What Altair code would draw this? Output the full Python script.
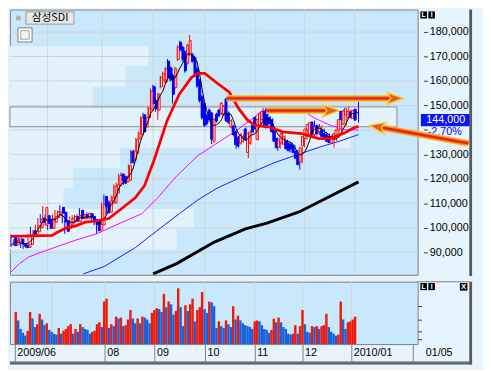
import altair as alt
import pandas as pd

S = 0.965                      # reference-pixel -> output-pixel factor
W, HP, HV, STRIP = 418, 272, 64, 18

# ---------------- daily candles, prices in thousand won ----------------
opens = [96.5, 93.0, 94.5, 95.4, 93.6, 92.8, 92.0, 93.2, 98.8, 97.2,
         98.4, 100.0, 104.0, 101.0, 105.0, 103.3, 99.8, 102.3, 104.2, 105.2,
         108.4, 106.4, 102.8, 99.8, 101.5, 102.4, 104.6, 102.6, 107.2, 103.8,
         105.4, 104.0, 105.8, 104.6, 103.4, 102.6, 99.2, 101.2, 112.8, 110.4,
         106.4, 110.0, 110.2, 114.2, 117.4, 122.0, 121.0, 118.8, 119.4, 131.2,
         127.6, 130.6, 136.4, 138.1, 146.2, 141.2, 145.0, 148.1, 157.7, 152.0,
         148.1, 157.7, 160.4, 159.6, 168.1, 165.4, 162.3, 157.3, 168.8, 175.8,
         173.8, 171.9, 167.3, 170.8, 170.8, 169.6, 165.0, 160.0, 153.5, 150.8,
         146.0, 148.1, 146.9, 135.4, 146.4, 148.1, 146.9, 146.2, 152.7, 146.9,
         141.2, 141.6, 139.2, 137.0, 134.6, 135.4, 140.4, 130.8, 134.6, 141.9,
         145.0, 136.2, 141.9, 144.2, 147.7, 146.9, 145.0, 144.2, 140.4, 136.5,
         133.0, 134.6, 134.2, 135.4, 134.6, 134.2, 133.5, 131.2, 129.6, 126.9,
         133.5, 136.5, 140.0, 137.3, 143.1, 138.1, 141.9, 139.2, 140.0, 138.5,
         138.1, 137.3, 134.6, 136.2, 137.3, 140.0, 147.7, 142.3, 146.2, 145.0,
         147.4, 144.8, 148.5]
closes = [92.7, 94.8, 95.6, 93.4, 92.5, 91.9, 93.3, 97.0, 97.4, 98.6,
          100.9, 103.5, 102.3, 108.3, 101.8, 99.8, 103.6, 104.6, 106.6, 106.4,
          106.0, 102.4, 98.6, 101.6, 104.0, 104.6, 102.8, 105.0, 103.8, 105.4,
          104.0, 105.9, 104.2, 103.0, 101.4, 98.8, 101.4, 109.6, 108.6, 106.2,
          110.9, 112.6, 117.0, 117.6, 121.4, 119.2, 118.2, 120.8, 125.4, 126.6,
          131.4, 136.2, 138.6, 145.0, 139.2, 145.0, 148.8, 155.8, 150.8, 148.6,
          154.6, 161.5, 163.0, 165.0, 161.2, 160.4, 154.6, 165.0, 173.8, 172.7,
          168.8, 164.2, 174.6, 176.5, 168.1, 163.0, 158.0, 152.0, 145.0, 141.9,
          142.6, 144.2, 136.2, 144.2, 143.6, 145.8, 150.8, 149.6, 143.8, 143.1,
          143.8, 138.1, 134.0, 133.4, 138.1, 137.3, 136.2, 138.5, 139.2, 139.2,
          140.4, 144.2, 146.9, 147.7, 141.2, 141.9, 142.6, 139.2, 135.4, 132.7,
          135.8, 138.5, 137.3, 132.3, 131.5, 132.3, 130.8, 128.4, 125.8, 132.7,
          137.3, 140.4, 142.3, 143.1, 138.1, 141.2, 138.5, 141.2, 137.3, 136.2,
          135.4, 134.8, 137.3, 138.5, 140.0, 144.2, 144.2, 147.7, 148.8, 147.7,
          145.2, 148.0, 144.0]
highs = [97.3, 95.4, 96.2, 95.8, 94.0, 93.4, 93.8, 97.6, 100.4, 99.2,
         101.3, 104.0, 105.6, 108.9, 105.6, 103.8, 104.2, 105.4, 107.3, 107.0,
         109.2, 106.8, 103.2, 102.2, 104.6, 105.2, 105.2, 105.6, 108.0, 106.0,
         105.8, 106.4, 106.2, 105.0, 103.8, 103.0, 102.0, 110.4, 113.6, 110.8,
         111.4, 113.2, 117.8, 118.4, 122.0, 122.6, 121.6, 121.4, 126.0, 131.8,
         132.0, 136.8, 139.4, 145.6, 147.0, 145.8, 149.6, 157.0, 158.4, 152.8,
         155.2, 162.2, 163.8, 165.8, 169.0, 166.0, 163.0, 165.8, 174.6, 176.5,
         174.4, 172.6, 175.2, 178.8, 171.6, 170.2, 165.8, 160.8, 154.2, 152.0,
         146.8, 148.8, 147.4, 144.8, 147.0, 148.8, 151.4, 150.2, 153.2, 147.6,
         144.4, 142.2, 139.8, 137.6, 138.8, 138.0, 141.0, 139.2, 139.8, 142.6,
         145.6, 144.8, 147.6, 149.0, 148.8, 147.6, 145.6, 144.8, 141.0, 137.0,
         136.4, 139.0, 137.8, 136.0, 135.2, 134.8, 134.0, 131.8, 130.2, 133.2,
         137.8, 141.0, 142.8, 143.6, 143.8, 141.8, 142.4, 141.8, 140.6, 139.0,
         138.6, 137.8, 137.8, 139.0, 140.6, 144.8, 148.4, 148.4, 149.6, 148.4,
         148.0, 148.6, 151.9]
lows = [92.2, 92.6, 94.0, 93.0, 91.8, 91.4, 91.7, 92.9, 97.0, 96.8,
        98.0, 99.6, 101.9, 100.6, 101.0, 99.2, 99.4, 102.0, 103.8, 104.6,
        105.6, 101.9, 97.6, 99.2, 101.0, 102.0, 102.3, 102.2, 103.4, 103.4,
        103.5, 103.6, 103.8, 102.6, 101.0, 97.7, 98.8, 100.8, 108.2, 105.6,
        106.0, 109.6, 109.8, 113.8, 117.0, 118.8, 117.6, 118.4, 119.0, 126.0,
        127.2, 130.2, 135.6, 137.6, 138.6, 140.6, 144.4, 147.6, 150.2, 147.4,
        144.2, 157.0, 159.8, 159.0, 160.6, 159.8, 150.8, 156.6, 168.2, 172.0,
        168.0, 163.4, 166.6, 170.2, 167.4, 162.4, 157.2, 151.2, 144.2, 141.2,
        141.8, 143.4, 134.2, 134.8, 143.0, 145.2, 146.2, 145.6, 143.2, 142.4,
        140.6, 137.4, 132.3, 132.8, 134.0, 134.8, 135.6, 128.5, 134.0, 138.6,
        139.8, 135.6, 141.2, 143.6, 140.6, 141.2, 142.0, 138.6, 134.8, 131.5,
        132.4, 134.0, 133.6, 131.8, 130.8, 131.6, 130.2, 127.8, 123.8, 126.4,
        133.0, 136.0, 139.4, 136.8, 137.6, 137.6, 138.0, 138.6, 136.8, 135.6,
        134.8, 134.2, 132.7, 135.6, 136.8, 139.4, 143.6, 141.8, 145.6, 144.4,
        144.6, 144.2, 143.0]
volumes = [34, 25, 16, 12, 9, 14, 34, 27, 18, 21,
           32, 26, 20, 22, 15, 13, 11, 10, 17, 11,
           14, 16, 19, 21, 11, 16, 13, 21, 18, 16,
           15, 11, 13, 14, 21, 23, 18, 45, 48, 17,
           21, 19, 29, 27, 28, 19, 20, 26, 36, 27,
           22, 27, 22, 29, 28, 26, 22, 33, 36, 38,
           37, 34, 53, 39, 45, 42, 31, 35, 59, 39,
           19, 41, 35, 42, 48, 24, 36, 39, 55, 37,
           33, 45, 44, 40, 17, 24, 19, 17, 25, 21,
           18, 40, 26, 30, 25, 22, 20, 19, 18, 16,
           24, 25, 24, 20, 16, 15, 12, 15, 27, 23,
           28, 23, 18, 16, 11, 10, 11, 20, 11, 19,
           36, 21, 13, 12, 19, 18, 19, 16, 19, 20,
           32, 18, 13, 11, 9, 10, 45, 26, 16, 23,
           24, 26, 29]

# moving averages (day index, value)
ma20_i = [0, 16.9, 18.8, 22.7, 26.5, 30.4, 34.2, 40, 45, 50.8, 54.6, 58.5, 62.3, 63.8, 68.8,
          73.8, 76.5, 79.2, 84.2, 89.2, 93, 96.5, 99.6, 105.4, 111, 118.8, 125.8, 130.4,
          136.2, 140, 142]
ma20_v = [96.5, 96.9, 98.1, 100.0, 100.8, 102.3, 102.7, 103.8, 107.7, 112.3, 117.3, 127.7,
          139.2, 143.8, 154.6, 161.5, 163.1, 163.1, 159.2, 155.4, 148.8, 144.2, 141.9, 141.2,
          139.2, 138.5, 136.5, 136.5, 138.8, 140.8, 141.5]
ma60_i = [0, 3.5, 7.3, 12.3, 18.8, 26.5, 35.4, 44.6, 53.5, 60, 67.7, 76.5, 84.2, 91.9, 97.7,
          101.5, 105.4, 115, 118.8, 123.8, 130.4, 136.9, 142]
ma60_v = [81.9, 85.4, 88.1, 90.0, 92.3, 95.0, 97.7, 101.9, 105.8, 112.3, 121.2, 129.6, 134.6,
          139.6, 143.8, 146.9, 148.5, 148.5, 148.1, 145.0, 141.9, 140.0, 140.0]
ma120_i = [29.6, 38.1, 50.8, 61.2, 68.8, 76.5, 84.2, 95.8, 107.3, 115, 126.5, 134.2, 142]
ma120_v = [81.2, 84.2, 91.9, 100.0, 105.8, 111.5, 116.2, 121.5, 126.5, 129.2, 133.1, 135.4, 138.1]
ma240_i = [58.1, 67.7, 83.1, 95.8, 104.6, 117.7, 129.2, 142]
ma240_v = [81.2, 85.4, 94.2, 99.6, 101.9, 106.5, 112.3, 118.8]

# price-by-volume bands
band_lo = [91.2, 99.6, 107.7, 116.2, 124.6, 132.7, 141.3, 149.4, 157.7, 166.2]
band_hi = [99.6, 107.7, 116.2, 124.6, 132.7, 141.3, 149.4, 157.7, 166.2, 174.2]
band_vol = [177, 195, 57, 67, 117, 362, 411, 88, 123, 147]

# month boundaries (day index) and labels
grid_idx = [15.0, 37.3, 58.1, 79.2, 100.0, 120.0, 140.4]
lbl_idx = [-0.385, 37.3, 58.1, 79.2, 100.0, 120.0, 140.4, 166.15]
lbl_txt = ['2009/06', '08', '09', '10', '11', '12', '2010/01', '']
price_ticks = [90, 100, 110, 120, 130, 140, 150, 160, 170, 180]
vol_ticks = [5, 13, 26, 40]

# drawn annotation arrows (day index, price)
arrow_g = ['A', 'A', 'B', 'B', 'C', 'C']
arrow_i = [88.1, 155.0, 104.2, 130.0, 149.6, 186.9]
arrow_p = [152.9, 152.9, 147.9, 147.9, 141.3, 134.5]
head_i = [156.9, 130.8, 149.6]
head_p = [152.9, 147.9, 141.3]
head_ang = [0, 0, 190]

# ---------------- styling ----------------
BG_PLOT = "#c9e8fb"
BG_LIGHT = "#e2f3fd"
BG_PANEL = "#e6f5fd"
GRID = "#d3d3d3"
RED, BLUE = "#ff0000", "#0000ff"
VRED, VBLUE = "#f01a0a", "#1a62d8"
HOLLOW = "#f2f9fe"
FONT = "Liberation Sans"

XDOM = [-0.385, 166.15]
YDOM = [80.8, 189.2]
XS = alt.Scale(domain=XDOM, nice=False, zero=False)
YS = alt.Scale(domain=YDOM, nice=False, zero=False)
VS = alt.Scale(domain=[0, 66], nice=False)

# the 140,000 label is covered by the change-rate text, as in the terminal screen
YAX = alt.Axis(orient='right', values=price_ticks,
               labelExpr="datum.value == 140 ? '' : format(datum.value*1000, ',')",
               tickSize=4, offset=6, domain=False, grid=False, title=None, labelPadding=2,
               labelFont=FONT, labelFontSize=11, labelColor='black', tickColor='#404040')
lbl_expr = " : ".join(
    f"abs(datum.value - ({p})) < 0.5 ? '{t}'" for p, t in zip(lbl_idx, lbl_txt)) + " : ''"
XAX = alt.Axis(orient='bottom', values=lbl_idx, labelExpr=lbl_expr, tickSize=STRIP,
               tickColor='#808080', domain=False, grid=False, title=None,
               labelAlign='left', labelBaseline='middle', labelPadding=-9, labelOffset=2,
               labelFlush=False, labelOverlap=False, labelFont=FONT, labelFontSize=11,
               labelColor='black')


def X(f='i'):
    return alt.X(f + ':Q', scale=XS, axis=None)


def XV(f='i'):
    return alt.X(f + ':Q', scale=XS, axis=XAX)


def Y(f):
    return alt.Y(f + ':Q', scale=YS, axis=YAX)


one = pd.DataFrame({'k': [0]})


def drect(x0, y0, x1, y1, yoff=0, **kw):
    return alt.Chart(one).mark_rect(**kw).encode(
        x=alt.value(x0 * S), x2=alt.value(x1 * S),
        y=alt.value((y0 - yoff) * S), y2=alt.value((y1 - yoff) * S))


def dtext(txt, x, y, yoff=0, **kw):
    return alt.Chart(one).mark_text(text=txt, **kw).encode(
        x=alt.value(x * S), y=alt.value((y - yoff) * S))


cdf = pd.DataFrame({'i': range(len(closes)), 'open': opens, 'close': closes,
                    'high': highs, 'low': lows})
vdf = pd.DataFrame({'i': range(len(volumes)), 'vol': volumes})
vdf['up'] = vdf['vol'] > vdf['vol'].shift(1, fill_value=0)
bdf = pd.DataFrame({'base': 0, 'lo': band_lo, 'hi': band_hi, 'vol': band_vol})
gdf = pd.DataFrame({'m': grid_idx})
tdf = pd.DataFrame({'p': price_ticks})
sdf = pd.DataFrame({'g': arrow_g, 'i': arrow_i, 'p': arrow_p})
hdf = pd.DataFrame({'i': head_i, 'p': head_p, 'ang': head_ang})
lab = pd.DataFrame({'p': [closes[-1]],
                    'txt': [format(int(round(closes[-1] * 1000)), ',')],
                    'chg': ['%.2f%%' % ((closes[-1] / closes[-2] - 1) * 100)]})

up = 'datum.close >= datum.open'
PS = alt.Scale(domain=[0, 433], nice=False, zero=False)

bands = alt.Chart(bdf).mark_rect(color=BG_LIGHT).encode(
    x=alt.X('base:Q', scale=PS, axis=None), x2='vol:Q', y=Y('lo'), y2='hi:Q')
vgrid = alt.Chart(gdf).mark_rule(color=GRID, strokeWidth=1).encode(x=X('m'))
hgrid = alt.Chart(tdf).mark_rule(color=GRID, strokeWidth=1).encode(y=Y('p'))
maxband = alt.Chart(bdf[bdf['vol'] == max(band_vol)]).mark_rect(
    fillOpacity=0, stroke='#8a8a8a', strokeWidth=1).encode(
    x=alt.X('base:Q', scale=PS, axis=None), x2='vol:Q', y=Y('lo'), y2='hi:Q')


def ma_line(idx, val, color, w):
    return alt.Chart(pd.DataFrame({'i': idx, 'v': val})).mark_line(
        color=color, strokeWidth=w).encode(x=X(), y=Y('v'))


wick = alt.Chart(cdf).mark_rule(strokeWidth=1).encode(
    x=X(), y=Y('low'), y2='high:Q',
    color=alt.condition(up, alt.value(RED), alt.value(BLUE)))
body = alt.Chart(cdf).mark_bar(width=2, strokeWidth=1).encode(
    x=X(), y=Y('open'), y2='close:Q',
    fill=alt.condition(up, alt.value(HOLLOW), alt.value(BLUE)),
    stroke=alt.condition(up, alt.value(RED), alt.value(BLUE)))
ma5 = alt.Chart(cdf).transform_window(
    ma5='mean(close)', frame=[-4, 0], sort=[alt.SortField('i')]
).mark_line(color='black', strokeWidth=1).encode(x=X(), y=Y('ma5'))

LBL_X = 463 * S
lbox = alt.Chart(lab).mark_point(
    shape="M-1,-0.245L1,-0.245L1,0.245L-1,0.245Z", filled=True, size=51 ** 2,
    fill='#0a14f5', opacity=1, strokeWidth=0).encode(x=alt.value(LBL_X), y=Y('p'))
ltxt = alt.Chart(lab).mark_text(color='white', fontSize=11, font=FONT).encode(
    x=alt.value(LBL_X), y=Y('p'), text='txt:N')
lchg = alt.Chart(lab).mark_text(color=BLUE, fontSize=11, font=FONT, dy=12.5).encode(
    x=alt.value(LBL_X - 1), y=Y('p'), text='chg:N')

shafts = [alt.Chart(sdf).mark_line(color=c, strokeWidth=w, strokeCap='butt').encode(
    x=X(), y=Y('p'), detail='g:N')
    for c, w in [('#f6c843', 7), ('#f28a1e', 5), ('#e4201a', 2.4)]]
heads = alt.Chart(hdf).mark_point(
    shape="M1,0L-1,-0.72L-0.5,0L-1,0.72Z", filled=True, size=300, opacity=1,
    fill='#ee5a1c', stroke='#f7d040', strokeWidth=1.5).encode(
    x=X(), y=Y('p'), angle=alt.Angle('ang:Q', scale=None))

deco_p = [
    drect(6.5, 6.5, 11.5, 11.5, color='#b0b0b0'),
    drect(17, 2.5, 68, 15.5, fill='#e8e8e8', stroke='#9a9a9a', strokeWidth=1),
    dtext('삼성SDI', 42.5, 9.5, font='Noto Sans CJK KR', fontSize=11, color='black',
          align='center', baseline='middle'),
    drect(8.5, 19.5, 23.5, 34.5, fill='white', stroke='#7a7a7a', strokeWidth=1),
    drect(11.5, 22.5, 20.5, 31.5, fill='#f4f4f4', stroke='#a0a0a0', strokeWidth=1),
    drect(436, 2, 443, 9.5, color='black'),
    drect(444.5, 2, 451.5, 9.5, color='black'),
    dtext('L', 439.5, 6, color='white', fontSize=7, fontWeight='bold',
          align='center', baseline='middle', font=FONT),
    dtext('I', 448, 6, color='white', fontSize=7, fontWeight='bold',
          align='center', baseline='middle', font=FONT),
    drect(488, 0, 491, 283, color='#5a5a5a'),
]

price = alt.layer(
    bands, vgrid, hgrid, maxband,
    ma_line(ma240_i, ma240_v, 'black', 3),
    ma_line(ma120_i, ma120_v, '#1818ff', 1),
    ma_line(ma60_i, ma60_v, '#ff00ff', 1),
    wick, body, ma5,
    ma_line(ma20_i, ma20_v, '#ff0000', 2.8),
    lbox, ltxt, lchg, *shafts, heads, *deco_p
).resolve_scale(x='independent').properties(width=W, height=HP)

# ---------------- volume pane ----------------
vgrid2 = alt.Chart(gdf).mark_rule(color=GRID, strokeWidth=1).encode(x=XV('m'))
vbars = alt.Chart(vdf).mark_bar(width=2.5).encode(
    x=XV('i'),
    y=alt.Y('vol:Q', scale=VS, axis=alt.Axis(
        orient='right', values=vol_ticks, labels=False, tickSize=4, domain=False,
        grid=False, title=None, tickColor='#404040')),
    color=alt.condition('datum.up', alt.value(VRED), alt.value(VBLUE)))

YO = 283
deco_v = [
    drect(433, 282.5, 488, 283.5, yoff=YO, color='#808080'),
    drect(436, 284.5, 443, 292, yoff=YO, color='black'),
    drect(444.5, 284.5, 451.5, 292, yoff=YO, color='black'),
    dtext('L', 439.5, 288.3, yoff=YO, color='white', fontSize=7, fontWeight='bold',
          align='center', baseline='middle', font=FONT),
    dtext('I', 448, 288.3, yoff=YO, color='white', fontSize=7, fontWeight='bold',
          align='center', baseline='middle', font=FONT),
    drect(478, 284.5, 486, 292.5, yoff=YO, color='black'),
    dtext('X', 482, 288.5, yoff=YO, color='white', fontSize=8, fontWeight='bold',
          align='center', baseline='middle', font=FONT),
    dtext('01/05', 456, 359, yoff=YO, color='black', fontSize=11, font=FONT,
          align='center', baseline='middle'),
    drect(0, 367.5, 488, 368.5, yoff=YO, color='#808080'),
    drect(0, 368.5, 491, 371, yoff=YO, color='#5a5a5a'),
    drect(488, 283, 491, 371, yoff=YO, color='#5a5a5a'),
]

volume = alt.layer(vgrid2, vbars, *deco_v).properties(width=W, height=HV)

chart = alt.vconcat(price, volume, spacing=0).properties(
    padding={"left": -4, "top": -4, "right": 0, "bottom": 0}, background=BG_PANEL
).configure_view(fill=BG_PLOT, stroke='#808080', strokeWidth=1)

chart.save("out.html", embed_options={"renderer": "svg", "actions": False})
